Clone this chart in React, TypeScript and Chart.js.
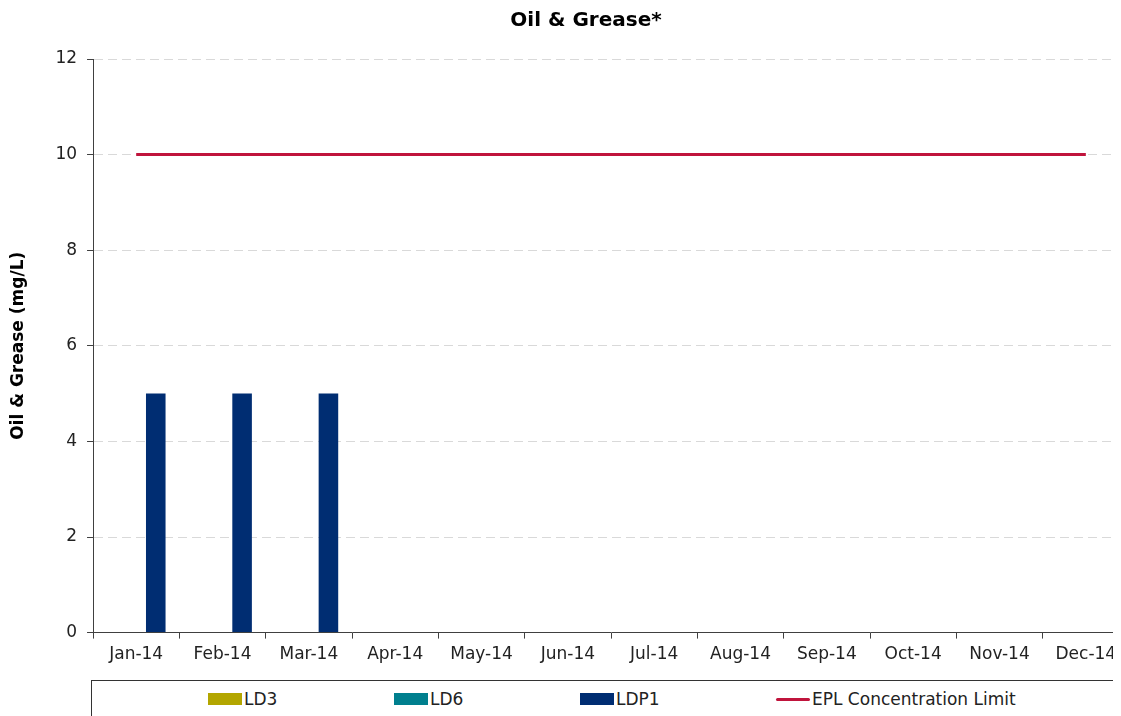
import React, { useEffect, useRef } from "react";
import { Chart, registerables } from "chart.js";

Chart.register(...registerables);

const TITLE = "Oil & Grease*";
const Y_TITLE = "Oil & Grease (mg/L)";
const categories = ["Jan-14", "Feb-14", "Mar-14", "Apr-14", "May-14", "Jun-14", "Jul-14", "Aug-14", "Sep-14", "Oct-14", "Nov-14", "Dec-14"];
const ld3: (number | null)[] = [null, null, null, null, null, null, null, null, null, null, null, null];
const ld6: (number | null)[] = [null, null, null, null, null, null, null, null, null, null, null, null];
const ldp1: (number | null)[] = [5, 5, 5, null, null, null, null, null, null, null, null, null];
const eplLimit: number[] = [10, 10, 10, 10, 10, 10, 10, 10, 10, 10, 10, 10];

const COLORS = { ld3: "#B3A600", ld6: "#007F8E", ldp1: "#002D72", epl: "#C0143C" };
const FONT = "Verdana, 'DejaVu Sans', sans-serif";

export default function App() {
  const ref = useRef<HTMLCanvasElement | null>(null);

  useEffect(() => {
    if (!ref.current) return;
    document.body.style.overflow = "hidden";
    const chart = new Chart(ref.current, {
      data: {
        labels: categories,
        datasets: [
          { type: "line", label: "EPL Concentration Limit", data: eplLimit, borderColor: COLORS.epl, backgroundColor: COLORS.epl, borderWidth: 3, pointRadius: 0, order: 0 },
          { type: "bar", label: "LD3", data: ld3, backgroundColor: COLORS.ld3, barPercentage: 1, categoryPercentage: 0.68, order: 1 },
          { type: "bar", label: "LD6", data: ld6, backgroundColor: COLORS.ld6, barPercentage: 1, categoryPercentage: 0.68, order: 1 },
          { type: "bar", label: "LDP1", data: ldp1, backgroundColor: COLORS.ldp1, barPercentage: 1, categoryPercentage: 0.68, order: 1 },
        ],
      } as any,
      options: {
        animation: false,
        responsive: false,
        maintainAspectRatio: false,
        layout: { padding: { left: 0, right: 23, top: 51, bottom: 9 } },
        plugins: {
          legend: { display: false },
          tooltip: { enabled: false },
          title: { display: false },
        },
        scales: {
          x: {
            offset: true,
            grid: { display: true, drawOnChartArea: false, drawTicks: true, tickLength: 6, color: "#404040", offset: true },
            border: { display: true, color: "#404040", width: 1 },
            ticks: { color: "#222", font: { family: FONT, size: 17 }, padding: 6, maxRotation: 0, autoSkip: false },
          },
          y: {
            min: 0,
            max: 12,
            ticks: { stepSize: 2, color: "#222", font: { family: FONT, size: 17 }, padding: 10 },
            grid: { color: (ctx: any) => (ctx.tick && ctx.tick.value === 0 ? "rgba(0,0,0,0)" : "#D9D9D9"), tickColor: "#404040", tickLength: 6, lineWidth: 1 },
            border: { display: true, color: "#404040", width: 1, dash: [9, 5] } as any,
            title: { display: true, text: Y_TITLE, color: "#000", font: { family: FONT, size: 17, weight: "bold" }, padding: { top: 0, bottom: 17 } },
          },
        },
      } as any,
      plugins: [
        {
          id: "offsetTitle",
          afterDraw(c: any) {
            const ctx = c.ctx;
            ctx.save();
            ctx.font = `bold 20px ${FONT}`;
            ctx.fillStyle = "#000";
            ctx.textAlign = "center";
            ctx.textBaseline = "middle";
            ctx.fillText(TITLE, 578, 13);
            ctx.restore();
          },
        },
      ],
    });
    return () => chart.destroy();
  }, []);

  const legendItems = [
    { label: "LD3", color: COLORS.ld3, left: 116, kind: "box" },
    { label: "LD6", color: COLORS.ld6, left: 302, kind: "box" },
    { label: "LDP1", color: COLORS.ldp1, left: 488, kind: "box" },
    { label: "EPL Concentration Limit", color: COLORS.epl, left: 684, kind: "line" },
  ];

  return (
    <div style={{ position: "relative", width: 1113, height: 708, overflow: "hidden" }}>
      <canvas ref={ref} width={1144} height={672} style={{ display: "block", width: 1144, height: 672 }} />
      <div style={{ position: "absolute", left: 83, top: 672, width: 1100, height: 60, border: "1px solid #333", boxSizing: "border-box" }}>
        {legendItems.map((it) => (
          <div key={it.label} style={{ position: "absolute", left: it.left, top: 8, height: 20, display: "flex", alignItems: "center", fontFamily: FONT, fontSize: 17, color: "#222", whiteSpace: "nowrap" }}>
            <span style={{ display: "inline-block", width: 34, height: it.kind === "box" ? 12 : 3, background: it.color, borderRadius: it.kind === "line" ? 2 : 0, marginRight: 2 }} />
            <span>{it.label}</span>
          </div>
        ))}
      </div>
    </div>
  );
}
